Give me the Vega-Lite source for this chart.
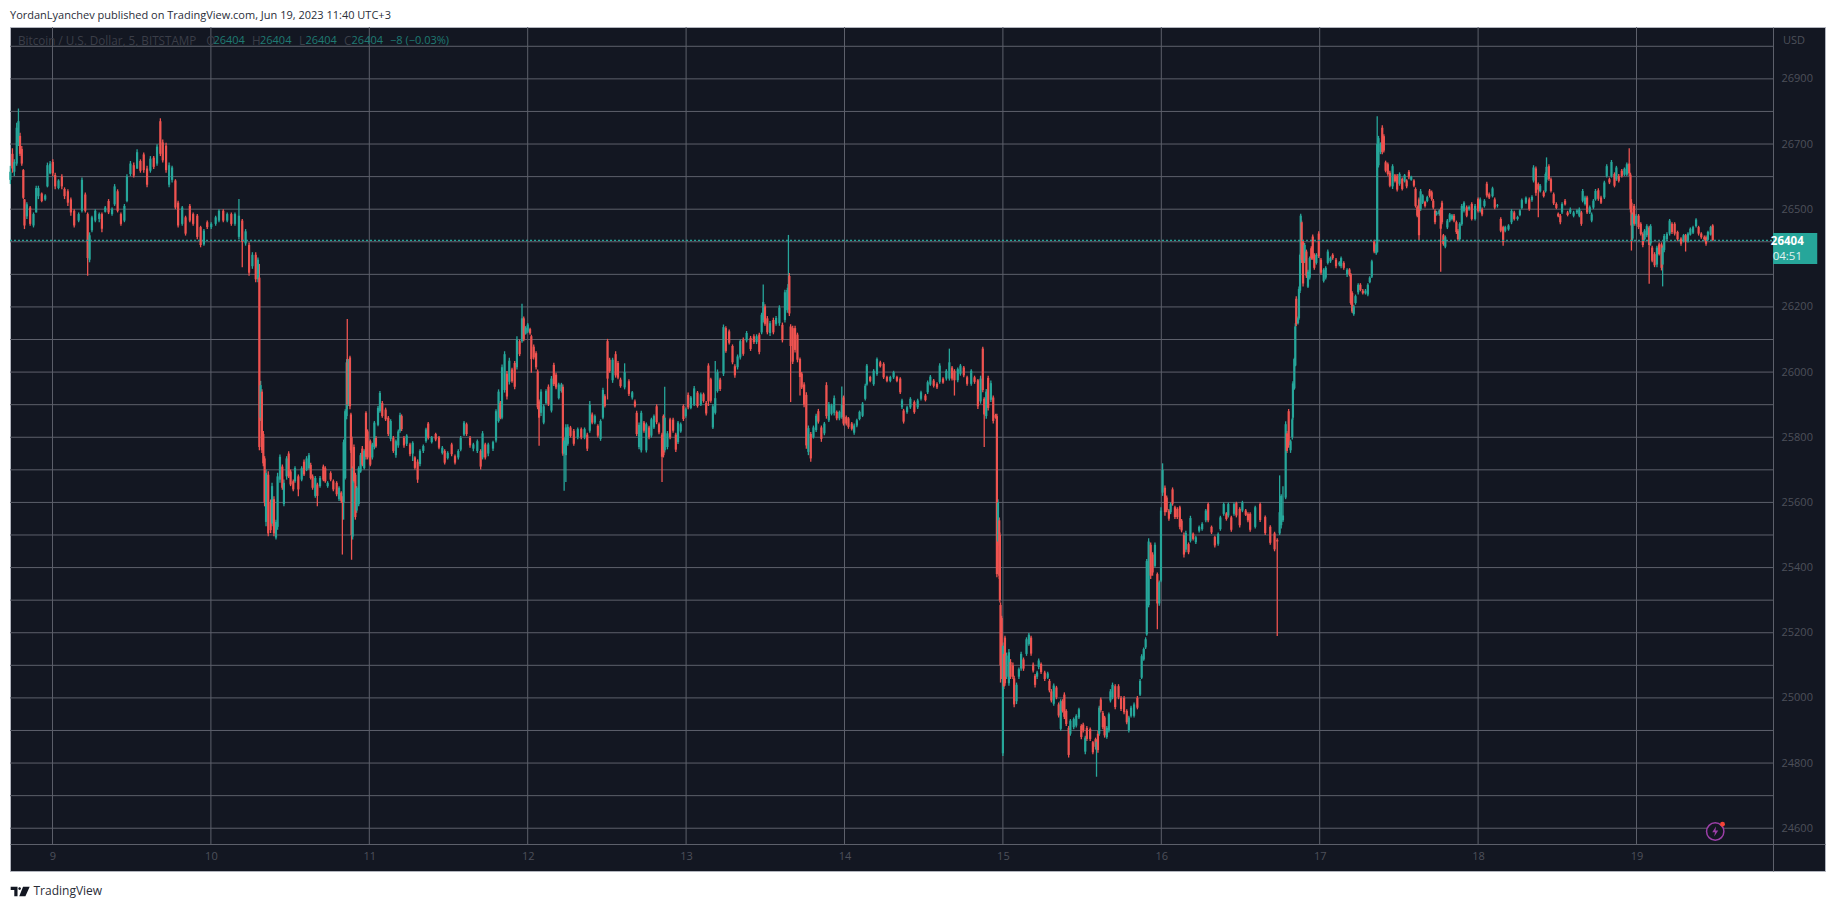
{"$schema":"https://vega.github.io/schema/vega-lite/v6.json","width":1815,"height":844,"autosize":"none","padding":{"left":10,"top":27,"right":10,"bottom":36},"background":"#ffffff",
"title":{"text":"YordanLyanchev published on TradingView.com, Jun 19, 2023 11:40 UTC+3","anchor":"start","frame":"group","font":"Open Sans","fontSize":11,"fontWeight":"normal","color":"#2a2e39","offset":6},
"config":{"view":{"fill":"#131722","stroke":"#b2b5be","strokeWidth":1},"font":"Open Sans"},
"data":{"values":[{"last":26404}]},
"datasets":{"priceGrid":[{"p":24600},{"p":24700},{"p":24800},{"p":24900},{"p":25000},{"p":25100},{"p":25200},{"p":25300},{"p":25400},{"p":25500},{"p":25600},{"p":25700},{"p":25800},{"p":25900},{"p":26000},{"p":26100},{"p":26200},{"p":26300},{"p":26400},{"p":26500},{"p":26600},{"p":26700},{"p":26800},{"p":26900},{"p":27000}],
"dayGrid":[{"day":9},{"day":10},{"day":11},{"day":12},{"day":13},{"day":14},{"day":15},{"day":16},{"day":17},{"day":18},{"day":19}],
"legend":[{"d":8.782,"label":"Bitcoin / U.S. Dollar, 5, BITSTAMP","kind":"name"},{"d":9.97,"label":"O","kind":"name"},{"d":10.259,"label":"H","kind":"name"},{"d":10.556,"label":"L","kind":"name"},{"d":10.84,"label":"C","kind":"name"},{"d":10.016,"label":"26404","kind":"val"},{"d":10.31,"label":"26404","kind":"val"},{"d":10.597,"label":"26404","kind":"val"},{"d":10.888,"label":"26404","kind":"val"},{"d":11.131,"label":"−8 (−0.03%)","kind":"val"}],
"candles":[
{"d":8.734,"o":26590,"h":26633,"l":26577,"c":26615},
{"d":8.747,"o":26670,"h":26687,"l":26612,"c":26625},
{"d":8.759,"o":26615,"h":26653,"l":26602,"c":26645},
{"d":8.774,"o":26640,"h":26765,"l":26633,"c":26750},
{"d":8.785,"o":26705,"h":26809,"l":26694,"c":26770},
{"d":8.795,"o":26725,"h":26735,"l":26663,"c":26670},
{"d":8.806,"o":26685,"h":26694,"l":26633,"c":26640},
{"d":8.816,"o":26620,"h":26623,"l":26531,"c":26535},
{"d":8.823,"o":26530,"h":26531,"l":26439,"c":26450},
{"d":8.838,"o":26478,"h":26521,"l":26470,"c":26515},
{"d":8.859,"o":26505,"h":26510,"l":26449,"c":26455},
{"d":8.88,"o":26450,"h":26490,"l":26444,"c":26485},
{"d":8.897,"o":26490,"h":26572,"l":26490,"c":26565},
{"d":8.911,"o":26540,"h":26572,"l":26531,"c":26565},
{"d":8.932,"o":26548,"h":26551,"l":26521,"c":26525},
{"d":8.954,"o":26530,"h":26546,"l":26526,"c":26542},
{"d":8.968,"o":26570,"h":26643,"l":26567,"c":26635},
{"d":8.985,"o":26610,"h":26648,"l":26607,"c":26640},
{"d":9.002,"o":26645,"h":26653,"l":26602,"c":26610},
{"d":9.017,"o":26605,"h":26612,"l":26561,"c":26570},
{"d":9.038,"o":26565,"h":26592,"l":26561,"c":26588},
{"d":9.059,"o":26600,"h":26607,"l":26561,"c":26570},
{"d":9.076,"o":26562,"h":26567,"l":26531,"c":26540},
{"d":9.097,"o":26555,"h":26561,"l":26510,"c":26520},
{"d":9.116,"o":26530,"h":26536,"l":26480,"c":26490},
{"d":9.137,"o":26495,"h":26500,"l":26444,"c":26450},
{"d":9.165,"o":26465,"h":26490,"l":26460,"c":26485},
{"d":9.186,"o":26495,"h":26597,"l":26490,"c":26590},
{"d":9.207,"o":26545,"h":26551,"l":26490,"c":26495},
{"d":9.222,"o":26485,"h":26490,"l":26296,"c":26350},
{"d":9.234,"o":26345,"h":26429,"l":26337,"c":26420},
{"d":9.249,"o":26435,"h":26480,"l":26429,"c":26475},
{"d":9.27,"o":26465,"h":26500,"l":26460,"c":26495},
{"d":9.295,"o":26470,"h":26490,"l":26460,"c":26485},
{"d":9.312,"o":26485,"h":26490,"l":26429,"c":26440},
{"d":9.333,"o":26492,"h":26510,"l":26490,"c":26505},
{"d":9.354,"o":26525,"h":26531,"l":26485,"c":26490},
{"d":9.376,"o":26485,"h":26505,"l":26480,"c":26500},
{"d":9.392,"o":26515,"h":26577,"l":26510,"c":26570},
{"d":9.411,"o":26555,"h":26561,"l":26490,"c":26495},
{"d":9.432,"o":26485,"h":26490,"l":26449,"c":26455},
{"d":9.454,"o":26465,"h":26516,"l":26460,"c":26510},
{"d":9.47,"o":26525,"h":26607,"l":26521,"c":26600},
{"d":9.492,"o":26608,"h":26648,"l":26602,"c":26640},
{"d":9.513,"o":26635,"h":26643,"l":26597,"c":26603},
{"d":9.534,"o":26625,"h":26684,"l":26623,"c":26675},
{"d":9.555,"o":26648,"h":26653,"l":26612,"c":26618},
{"d":9.576,"o":26668,"h":26674,"l":26612,"c":26620},
{"d":9.597,"o":26625,"h":26633,"l":26567,"c":26575},
{"d":9.618,"o":26618,"h":26663,"l":26612,"c":26655},
{"d":9.639,"o":26658,"h":26663,"l":26623,"c":26630},
{"d":9.66,"o":26640,"h":26699,"l":26633,"c":26692},
{"d":9.681,"o":26770,"h":26779,"l":26663,"c":26670},
{"d":9.696,"o":26705,"h":26714,"l":26643,"c":26650},
{"d":9.717,"o":26695,"h":26704,"l":26612,"c":26620},
{"d":9.736,"o":26575,"h":26643,"l":26567,"c":26635},
{"d":9.755,"o":26590,"h":26633,"l":26582,"c":26628},
{"d":9.776,"o":26588,"h":26592,"l":26500,"c":26505},
{"d":9.793,"o":26520,"h":26526,"l":26444,"c":26450},
{"d":9.819,"o":26455,"h":26510,"l":26449,"c":26505},
{"d":9.84,"o":26475,"h":26480,"l":26419,"c":26425},
{"d":9.867,"o":26510,"h":26516,"l":26460,"c":26465},
{"d":9.888,"o":26485,"h":26490,"l":26449,"c":26455},
{"d":9.914,"o":26480,"h":26485,"l":26408,"c":26415},
{"d":9.935,"o":26445,"h":26449,"l":26383,"c":26390},
{"d":9.956,"o":26392,"h":26439,"l":26388,"c":26434},
{"d":9.977,"o":26460,"h":26465,"l":26439,"c":26445},
{"d":10.002,"o":26445,"h":26460,"l":26439,"c":26455},
{"d":10.03,"o":26455,"h":26480,"l":26449,"c":26475},
{"d":10.051,"o":26465,"h":26500,"l":26460,"c":26495},
{"d":10.078,"o":26495,"h":26500,"l":26460,"c":26465},
{"d":10.103,"o":26465,"h":26490,"l":26460,"c":26485},
{"d":10.129,"o":26485,"h":26490,"l":26449,"c":26455},
{"d":10.152,"o":26455,"h":26490,"l":26449,"c":26485},
{"d":10.177,"o":26415,"h":26531,"l":26408,"c":26480},
{"d":10.198,"o":26465,"h":26470,"l":26322,"c":26400},
{"d":10.219,"o":26395,"h":26439,"l":26388,"c":26432},
{"d":10.241,"o":26390,"h":26398,"l":26296,"c":26305},
{"d":10.262,"o":26325,"h":26368,"l":26317,"c":26360},
{"d":10.283,"o":26360,"h":26368,"l":26276,"c":26285},
{"d":10.297,"o":26285,"h":26352,"l":26276,"c":26345},
{"d":10.306,"o":26290,"h":26332,"l":25760,"c":25770},
{"d":10.314,"o":25860,"h":25973,"l":25850,"c":25960},
{"d":10.322,"o":25940,"h":25947,"l":25752,"c":25760},
{"d":10.331,"o":25810,"h":25819,"l":25711,"c":25720},
{"d":10.339,"o":25735,"h":25742,"l":25588,"c":25600},
{"d":10.348,"o":25540,"h":25701,"l":25527,"c":25690},
{"d":10.362,"o":25685,"h":25696,"l":25496,"c":25505},
{"d":10.377,"o":25600,"h":25609,"l":25506,"c":25515},
{"d":10.386,"o":25535,"h":25660,"l":25527,"c":25650},
{"d":10.398,"o":25610,"h":25619,"l":25496,"c":25505},
{"d":10.411,"o":25492,"h":25547,"l":25486,"c":25540},
{"d":10.421,"o":25525,"h":25691,"l":25516,"c":25680},
{"d":10.436,"o":25670,"h":25747,"l":25660,"c":25740},
{"d":10.451,"o":25710,"h":25716,"l":25639,"c":25645},
{"d":10.461,"o":25595,"h":25670,"l":25588,"c":25660},
{"d":10.478,"o":25680,"h":25742,"l":25670,"c":25735},
{"d":10.491,"o":25750,"h":25757,"l":25675,"c":25680},
{"d":10.503,"o":25695,"h":25701,"l":25650,"c":25655},
{"d":10.52,"o":25665,"h":25670,"l":25634,"c":25640},
{"d":10.531,"o":25665,"h":25711,"l":25660,"c":25705},
{"d":10.552,"o":25680,"h":25686,"l":25619,"c":25640},
{"d":10.573,"o":25670,"h":25711,"l":25665,"c":25705},
{"d":10.588,"o":25725,"h":25732,"l":25681,"c":25686},
{"d":10.604,"o":25700,"h":25742,"l":25696,"c":25735},
{"d":10.619,"o":25705,"h":25752,"l":25701,"c":25745},
{"d":10.63,"o":25715,"h":25722,"l":25670,"c":25675},
{"d":10.642,"o":25680,"h":25686,"l":25639,"c":25645},
{"d":10.659,"o":25620,"h":25681,"l":25614,"c":25675},
{"d":10.672,"o":25655,"h":25660,"l":25588,"c":25620},
{"d":10.689,"o":25650,"h":25681,"l":25645,"c":25675},
{"d":10.71,"o":25710,"h":25716,"l":25665,"c":25670},
{"d":10.722,"o":25705,"h":25711,"l":25660,"c":25665},
{"d":10.737,"o":25650,"h":25665,"l":25645,"c":25660},
{"d":10.756,"o":25690,"h":25696,"l":25665,"c":25670},
{"d":10.773,"o":25665,"h":25670,"l":25634,"c":25640},
{"d":10.794,"o":25660,"h":25665,"l":25619,"c":25625},
{"d":10.809,"o":25610,"h":25650,"l":25604,"c":25645},
{"d":10.823,"o":25630,"h":25634,"l":25598,"c":25605},
{"d":10.83,"o":25610,"h":25619,"l":25440,"c":25600},
{"d":10.838,"o":25600,"h":25793,"l":25547,"c":25785},
{"d":10.848,"o":25675,"h":25886,"l":25670,"c":25880},
{"d":10.857,"o":25865,"h":26040,"l":25855,"c":26030},
{"d":10.861,"o":26030,"h":26163,"l":25886,"c":25900},
{"d":10.87,"o":25900,"h":26040,"l":25896,"c":26035},
{"d":10.878,"o":26045,"h":26050,"l":25886,"c":25895},
{"d":10.884,"o":25870,"h":25875,"l":25752,"c":25760},
{"d":10.888,"o":25800,"h":25804,"l":25424,"c":25500},
{"d":10.895,"o":25495,"h":25711,"l":25486,"c":25705},
{"d":10.903,"o":25770,"h":25778,"l":25660,"c":25665},
{"d":10.912,"o":25685,"h":25691,"l":25547,"c":25555},
{"d":10.92,"o":25575,"h":25650,"l":25568,"c":25645},
{"d":10.933,"o":25595,"h":25711,"l":25588,"c":25705},
{"d":10.945,"o":25695,"h":25752,"l":25691,"c":25745},
{"d":10.956,"o":25765,"h":25773,"l":25711,"c":25716},
{"d":10.968,"o":25705,"h":25763,"l":25701,"c":25758},
{"d":10.979,"o":25875,"h":25880,"l":25732,"c":25740},
{"d":10.989,"o":25818,"h":25824,"l":25732,"c":25738},
{"d":11.006,"o":25788,"h":25793,"l":25711,"c":25716},
{"d":11.019,"o":25738,"h":25783,"l":25732,"c":25778},
{"d":11.032,"o":25770,"h":25850,"l":25763,"c":25845},
{"d":11.042,"o":25798,"h":25804,"l":25768,"c":25772},
{"d":11.055,"o":25838,"h":25896,"l":25834,"c":25890},
{"d":11.067,"o":25880,"h":25942,"l":25875,"c":25936},
{"d":11.082,"o":25905,"h":25911,"l":25860,"c":25865},
{"d":11.103,"o":25885,"h":25891,"l":25850,"c":25855},
{"d":11.12,"o":25860,"h":25865,"l":25804,"c":25810},
{"d":11.135,"o":25795,"h":25855,"l":25788,"c":25850},
{"d":11.152,"o":25798,"h":25804,"l":25752,"c":25758},
{"d":11.168,"o":25745,"h":25793,"l":25737,"c":25788},
{"d":11.183,"o":25775,"h":25824,"l":25768,"c":25818},
{"d":11.194,"o":25820,"h":25875,"l":25814,"c":25868},
{"d":11.204,"o":25865,"h":25870,"l":25819,"c":25825},
{"d":11.219,"o":25798,"h":25804,"l":25768,"c":25775},
{"d":11.236,"o":25780,"h":25809,"l":25773,"c":25805},
{"d":11.257,"o":25778,"h":25783,"l":25742,"c":25748},
{"d":11.274,"o":25750,"h":25788,"l":25727,"c":25783},
{"d":11.288,"o":25738,"h":25742,"l":25701,"c":25706},
{"d":11.305,"o":25725,"h":25732,"l":25660,"c":25670},
{"d":11.32,"o":25718,"h":25763,"l":25711,"c":25758},
{"d":11.341,"o":25758,"h":25778,"l":25752,"c":25773},
{"d":11.358,"o":25788,"h":25829,"l":25783,"c":25824},
{"d":11.372,"o":25842,"h":25847,"l":25793,"c":25798},
{"d":11.394,"o":25785,"h":25804,"l":25781,"c":25800},
{"d":11.419,"o":25810,"h":25814,"l":25788,"c":25793},
{"d":11.44,"o":25800,"h":25804,"l":25763,"c":25768},
{"d":11.461,"o":25752,"h":25773,"l":25747,"c":25768},
{"d":11.476,"o":25758,"h":25763,"l":25716,"c":25722},
{"d":11.495,"o":25736,"h":25757,"l":25732,"c":25752},
{"d":11.52,"o":25778,"h":25783,"l":25742,"c":25748},
{"d":11.541,"o":25742,"h":25747,"l":25716,"c":25722},
{"d":11.562,"o":25738,"h":25763,"l":25732,"c":25758},
{"d":11.577,"o":25762,"h":25804,"l":25757,"c":25798},
{"d":11.598,"o":25808,"h":25850,"l":25804,"c":25845},
{"d":11.614,"o":25840,"h":25845,"l":25804,"c":25810},
{"d":11.636,"o":25798,"h":25804,"l":25768,"c":25775},
{"d":11.657,"o":25765,"h":25783,"l":25757,"c":25778},
{"d":11.682,"o":25758,"h":25793,"l":25752,"c":25788},
{"d":11.703,"o":25758,"h":25763,"l":25701,"c":25710},
{"d":11.715,"o":25738,"h":25819,"l":25732,"c":25812},
{"d":11.732,"o":25778,"h":25783,"l":25732,"c":25738},
{"d":11.751,"o":25750,"h":25783,"l":25742,"c":25778},
{"d":11.781,"o":25765,"h":25789,"l":25758,"c":25785},
{"d":11.8,"o":25790,"h":25886,"l":25784,"c":25880},
{"d":11.816,"o":25850,"h":25947,"l":25845,"c":25940},
{"d":11.827,"o":25905,"h":25911,"l":25855,"c":25860},
{"d":11.838,"o":25860,"h":26023,"l":25855,"c":26015},
{"d":11.854,"o":25945,"h":26064,"l":25937,"c":26055},
{"d":11.869,"o":25995,"h":26003,"l":25916,"c":25925},
{"d":11.884,"o":25970,"h":26044,"l":25962,"c":26035},
{"d":11.901,"o":26008,"h":26013,"l":25967,"c":25972},
{"d":11.918,"o":26028,"h":26034,"l":25947,"c":25955},
{"d":11.932,"o":26015,"h":26110,"l":26008,"c":26100},
{"d":11.949,"o":26095,"h":26100,"l":26049,"c":26055},
{"d":11.964,"o":26095,"h":26210,"l":26090,"c":26165},
{"d":11.975,"o":26165,"h":26171,"l":26095,"c":26100},
{"d":11.987,"o":26118,"h":26141,"l":26115,"c":26136},
{"d":12,"o":26124,"h":26151,"l":26120,"c":26146},
{"d":12.015,"o":26132,"h":26136,"l":26115,"c":26119},
{"d":12.023,"o":26110,"h":26115,"l":25998,"c":26040},
{"d":12.038,"o":26078,"h":26085,"l":26039,"c":26045},
{"d":12.053,"o":26058,"h":26064,"l":26008,"c":26015},
{"d":12.063,"o":26002,"h":26008,"l":25886,"c":25892},
{"d":12.072,"o":25910,"h":25916,"l":25774,"c":25860},
{"d":12.084,"o":25875,"h":25947,"l":25865,"c":25940},
{"d":12.101,"o":25845,"h":25901,"l":25840,"c":25895},
{"d":12.116,"o":25905,"h":25947,"l":25901,"c":25942},
{"d":12.131,"o":25955,"h":25962,"l":25896,"c":25902},
{"d":12.15,"o":25882,"h":25988,"l":25876,"c":25980},
{"d":12.165,"o":26022,"h":26029,"l":25957,"c":25963},
{"d":12.179,"o":25992,"h":25998,"l":25947,"c":25953},
{"d":12.196,"o":25920,"h":25967,"l":25916,"c":25962},
{"d":12.213,"o":25942,"h":25967,"l":25937,"c":25962},
{"d":12.222,"o":25955,"h":25962,"l":25743,"c":25750},
{"d":12.23,"o":25750,"h":25799,"l":25636,"c":25790},
{"d":12.241,"o":25745,"h":25840,"l":25663,"c":25830},
{"d":12.253,"o":25780,"h":25840,"l":25774,"c":25832},
{"d":12.27,"o":25830,"h":25835,"l":25799,"c":25804},
{"d":12.291,"o":25820,"h":25825,"l":25774,"c":25780},
{"d":12.316,"o":25800,"h":25830,"l":25794,"c":25825},
{"d":12.338,"o":25825,"h":25830,"l":25794,"c":25800},
{"d":12.359,"o":25800,"h":25830,"l":25794,"c":25825},
{"d":12.376,"o":25808,"h":25814,"l":25758,"c":25765},
{"d":12.392,"o":25820,"h":25911,"l":25814,"c":25900},
{"d":12.407,"o":25870,"h":25876,"l":25840,"c":25845},
{"d":12.424,"o":25845,"h":25870,"l":25840,"c":25865},
{"d":12.443,"o":25835,"h":25840,"l":25799,"c":25805},
{"d":12.46,"o":25795,"h":25855,"l":25789,"c":25850},
{"d":12.475,"o":25860,"h":25952,"l":25855,"c":25945},
{"d":12.487,"o":25926,"h":25932,"l":25891,"c":25896},
{"d":12.504,"o":26095,"h":26102,"l":25916,"c":25980},
{"d":12.517,"o":26038,"h":26044,"l":25998,"c":26003},
{"d":12.536,"o":25975,"h":26044,"l":25967,"c":26038},
{"d":12.555,"o":26055,"h":26064,"l":25983,"c":25990},
{"d":12.57,"o":26028,"h":26034,"l":25978,"c":25983},
{"d":12.586,"o":25977,"h":25983,"l":25952,"c":25957},
{"d":12.612,"o":25953,"h":26027,"l":25947,"c":26000},
{"d":12.639,"o":25972,"h":25978,"l":25927,"c":25933},
{"d":12.66,"o":25922,"h":25942,"l":25916,"c":25938},
{"d":12.677,"o":25910,"h":25916,"l":25891,"c":25895},
{"d":12.688,"o":25875,"h":25881,"l":25804,"c":25810},
{"d":12.703,"o":25770,"h":25845,"l":25763,"c":25838},
{"d":12.717,"o":25760,"h":25881,"l":25753,"c":25875},
{"d":12.734,"o":25845,"h":25850,"l":25814,"c":25820},
{"d":12.749,"o":25760,"h":25845,"l":25753,"c":25840},
{"d":12.766,"o":25830,"h":25835,"l":25794,"c":25800},
{"d":12.781,"o":25805,"h":25860,"l":25799,"c":25855},
{"d":12.797,"o":25830,"h":25870,"l":25825,"c":25865},
{"d":12.814,"o":25895,"h":25901,"l":25840,"c":25846},
{"d":12.829,"o":25840,"h":25845,"l":25809,"c":25815},
{"d":12.848,"o":25808,"h":25814,"l":25663,"c":25740},
{"d":12.857,"o":25865,"h":25870,"l":25738,"c":25745},
{"d":12.865,"o":25760,"h":25955,"l":25753,"c":25860},
{"d":12.882,"o":25770,"h":25819,"l":25763,"c":25812},
{"d":12.899,"o":25855,"h":25860,"l":25794,"c":25800},
{"d":12.918,"o":25854,"h":25860,"l":25814,"c":25820},
{"d":12.935,"o":25808,"h":25814,"l":25755,"c":25762},
{"d":12.949,"o":25785,"h":25850,"l":25779,"c":25845},
{"d":12.966,"o":25818,"h":25845,"l":25814,"c":25840},
{"d":12.983,"o":25896,"h":25901,"l":25850,"c":25856},
{"d":12.998,"o":25865,"h":25891,"l":25860,"c":25886},
{"d":13.013,"o":25930,"h":25937,"l":25886,"c":25892},
{"d":13.03,"o":25890,"h":25927,"l":25886,"c":25922},
{"d":13.051,"o":25900,"h":25957,"l":25896,"c":25950},
{"d":13.072,"o":25937,"h":25942,"l":25891,"c":25896},
{"d":13.093,"o":25900,"h":25937,"l":25896,"c":25932},
{"d":13.11,"o":25932,"h":25937,"l":25906,"c":25911},
{"d":13.127,"o":25905,"h":25911,"l":25867,"c":25873},
{"d":13.141,"o":26020,"h":26027,"l":25896,"c":25910},
{"d":13.156,"o":25978,"h":25983,"l":25906,"c":25912},
{"d":13.169,"o":25830,"h":25901,"l":25825,"c":25895},
{"d":13.184,"o":25875,"h":26034,"l":25870,"c":25920},
{"d":13.198,"o":25942,"h":26008,"l":25937,"c":26000},
{"d":13.215,"o":25977,"h":25983,"l":25942,"c":25948},
{"d":13.236,"o":25995,"h":26146,"l":25988,"c":26138},
{"d":13.251,"o":26135,"h":26141,"l":26059,"c":26065},
{"d":13.272,"o":26125,"h":26131,"l":26085,"c":26090},
{"d":13.293,"o":26080,"h":26085,"l":26024,"c":26030},
{"d":13.308,"o":26018,"h":26024,"l":25983,"c":25990},
{"d":13.325,"o":26015,"h":26054,"l":26008,"c":26048},
{"d":13.342,"o":26045,"h":26100,"l":26039,"c":26095},
{"d":13.361,"o":26100,"h":26106,"l":26050,"c":26056},
{"d":13.382,"o":26097,"h":26126,"l":26091,"c":26120},
{"d":13.407,"o":26105,"h":26111,"l":26065,"c":26071},
{"d":13.428,"o":26110,"h":26116,"l":26086,"c":26092},
{"d":13.445,"o":26092,"h":26116,"l":26086,"c":26110},
{"d":13.462,"o":26115,"h":26121,"l":26055,"c":26062},
{"d":13.477,"o":26122,"h":26182,"l":26116,"c":26176},
{"d":13.487,"o":26160,"h":26269,"l":26152,"c":26215},
{"d":13.498,"o":26202,"h":26208,"l":26142,"c":26148},
{"d":13.513,"o":26165,"h":26172,"l":26116,"c":26122},
{"d":13.53,"o":26120,"h":26157,"l":26111,"c":26150},
{"d":13.551,"o":26160,"h":26167,"l":26116,"c":26122},
{"d":13.568,"o":26148,"h":26172,"l":26142,"c":26166},
{"d":13.589,"o":26150,"h":26205,"l":26142,"c":26198},
{"d":13.608,"o":26145,"h":26152,"l":26091,"c":26098},
{"d":13.624,"o":26160,"h":26253,"l":26152,"c":26245},
{"d":13.639,"o":26190,"h":26259,"l":26182,"c":26252},
{"d":13.646,"o":26200,"h":26421,"l":26192,"c":26270},
{"d":13.652,"o":26295,"h":26304,"l":26172,"c":26180},
{"d":13.66,"o":26140,"h":26147,"l":25908,"c":26080},
{"d":13.673,"o":26135,"h":26142,"l":26025,"c":26032},
{"d":13.688,"o":26135,"h":26142,"l":26060,"c":26068},
{"d":13.703,"o":26115,"h":26121,"l":26030,"c":26038},
{"d":13.719,"o":26040,"h":26045,"l":25928,"c":25985},
{"d":13.73,"o":25995,"h":26000,"l":25948,"c":25953},
{"d":13.745,"o":25962,"h":25969,"l":25892,"c":25900},
{"d":13.759,"o":25930,"h":25938,"l":25765,"c":25775},
{"d":13.772,"o":25755,"h":25836,"l":25745,"c":25828},
{"d":13.787,"o":25810,"h":25816,"l":25725,"c":25735},
{"d":13.804,"o":25800,"h":25836,"l":25796,"c":25830},
{"d":13.821,"o":25822,"h":25872,"l":25816,"c":25866},
{"d":13.835,"o":25880,"h":25887,"l":25842,"c":25848},
{"d":13.854,"o":25830,"h":25836,"l":25786,"c":25795},
{"d":13.873,"o":25812,"h":25847,"l":25806,"c":25842},
{"d":13.886,"o":25960,"h":25969,"l":25857,"c":25865},
{"d":13.901,"o":25852,"h":25908,"l":25847,"c":25902},
{"d":13.918,"o":25872,"h":25903,"l":25867,"c":25898},
{"d":13.935,"o":25875,"h":25928,"l":25867,"c":25920},
{"d":13.951,"o":25878,"h":25882,"l":25852,"c":25858},
{"d":13.968,"o":25858,"h":25882,"l":25852,"c":25878},
{"d":13.983,"o":25862,"h":25956,"l":25857,"c":25900},
{"d":13.994,"o":25922,"h":25928,"l":25836,"c":25842},
{"d":14.011,"o":25862,"h":25867,"l":25836,"c":25842},
{"d":14.025,"o":25858,"h":25862,"l":25826,"c":25832},
{"d":14.046,"o":25842,"h":25847,"l":25821,"c":25826},
{"d":14.061,"o":25814,"h":25842,"l":25808,"c":25836},
{"d":14.078,"o":25836,"h":25857,"l":25831,"c":25852},
{"d":14.095,"o":25856,"h":25882,"l":25852,"c":25878},
{"d":14.114,"o":25866,"h":25908,"l":25862,"c":25903},
{"d":14.131,"o":25918,"h":25964,"l":25913,"c":25958},
{"d":14.141,"o":25962,"h":26025,"l":25958,"c":26020},
{"d":14.162,"o":25985,"h":25989,"l":25969,"c":25973},
{"d":14.184,"o":25963,"h":26009,"l":25958,"c":26004},
{"d":14.205,"o":25994,"h":26045,"l":25989,"c":26040},
{"d":14.226,"o":26030,"h":26035,"l":26014,"c":26018},
{"d":14.247,"o":26025,"h":26030,"l":25979,"c":25984},
{"d":14.268,"o":25985,"h":25989,"l":25969,"c":25973},
{"d":14.289,"o":25973,"h":25989,"l":25969,"c":25985},
{"d":14.31,"o":25984,"h":26004,"l":25979,"c":26000},
{"d":14.331,"o":25985,"h":25989,"l":25969,"c":25973},
{"d":14.352,"o":25980,"h":25984,"l":25933,"c":25938},
{"d":14.363,"o":25892,"h":25918,"l":25887,"c":25913},
{"d":14.373,"o":25882,"h":25887,"l":25842,"c":25848},
{"d":14.395,"o":25877,"h":25897,"l":25872,"c":25892},
{"d":14.416,"o":25892,"h":25923,"l":25887,"c":25918},
{"d":14.441,"o":25908,"h":25913,"l":25872,"c":25877},
{"d":14.462,"o":25892,"h":25918,"l":25887,"c":25913},
{"d":14.483,"o":25918,"h":25943,"l":25913,"c":25938},
{"d":14.511,"o":25928,"h":25933,"l":25910,"c":25914},
{"d":14.525,"o":25938,"h":25974,"l":25933,"c":25969},
{"d":14.542,"o":25962,"h":25991,"l":25958,"c":25986},
{"d":14.563,"o":25974,"h":25979,"l":25953,"c":25958},
{"d":14.584,"o":25964,"h":25969,"l":25948,"c":25953},
{"d":14.601,"o":25970,"h":26027,"l":25964,"c":26020},
{"d":14.622,"o":25980,"h":25984,"l":25964,"c":25968},
{"d":14.643,"o":25980,"h":26009,"l":25974,"c":26004},
{"d":14.662,"o":25980,"h":26072,"l":25974,"c":26030},
{"d":14.679,"o":26014,"h":26019,"l":25974,"c":25980},
{"d":14.694,"o":26004,"h":26009,"l":25928,"c":25975},
{"d":14.715,"o":25975,"h":26014,"l":25969,"c":26009},
{"d":14.732,"o":25995,"h":26025,"l":25989,"c":26020},
{"d":14.753,"o":26014,"h":26019,"l":25984,"c":25990},
{"d":14.774,"o":25984,"h":25989,"l":25958,"c":25964},
{"d":14.8,"o":25964,"h":26009,"l":25958,"c":26004},
{"d":14.821,"o":25984,"h":25989,"l":25964,"c":25970},
{"d":14.842,"o":25975,"h":25979,"l":25887,"c":25895},
{"d":14.859,"o":25910,"h":25989,"l":25903,"c":25980},
{"d":14.873,"o":26072,"h":26078,"l":25938,"c":25945},
{"d":14.882,"o":25918,"h":25923,"l":25770,"c":25870},
{"d":14.895,"o":25865,"h":25948,"l":25857,"c":25940},
{"d":14.907,"o":25982,"h":25989,"l":25882,"c":25890},
{"d":14.924,"o":25915,"h":25974,"l":25908,"c":25966},
{"d":14.939,"o":25922,"h":25928,"l":25842,"c":25850},
{"d":14.954,"o":25868,"h":25872,"l":25857,"c":25860},
{"d":14.962,"o":25865,"h":25872,"l":25370,"c":25380},
{"d":14.969,"o":25480,"h":25610,"l":25467,"c":25600},
{"d":14.977,"o":25545,"h":25554,"l":25365,"c":25375},
{"d":14.981,"o":25500,"h":25508,"l":25293,"c":25300},
{"d":14.985,"o":25285,"h":25293,"l":25047,"c":25100},
{"d":14.992,"o":25245,"h":25252,"l":25058,"c":25065},
{"d":15,"o":24830,"h":25170,"l":24822,"c":25160},
{"d":15.006,"o":25135,"h":25145,"l":25027,"c":25035},
{"d":15.013,"o":25185,"h":25191,"l":25037,"c":25045},
{"d":15.023,"o":25065,"h":25139,"l":25058,"c":25130},
{"d":15.038,"o":25045,"h":25150,"l":25037,"c":25140},
{"d":15.048,"o":25110,"h":25119,"l":25058,"c":25065},
{"d":15.063,"o":25100,"h":25109,"l":25058,"c":25065},
{"d":15.071,"o":25060,"h":25068,"l":24971,"c":24980},
{"d":15.086,"o":24990,"h":25047,"l":24981,"c":25040},
{"d":15.101,"o":25065,"h":25093,"l":25058,"c":25088},
{"d":15.115,"o":25090,"h":25142,"l":25083,"c":25135},
{"d":15.13,"o":25118,"h":25124,"l":25083,"c":25090},
{"d":15.149,"o":25135,"h":25186,"l":25129,"c":25180},
{"d":15.164,"o":25165,"h":25199,"l":25160,"c":25194},
{"d":15.178,"o":25185,"h":25191,"l":25129,"c":25136},
{"d":15.191,"o":25102,"h":25109,"l":25078,"c":25084},
{"d":15.203,"o":25068,"h":25073,"l":25032,"c":25040},
{"d":15.216,"o":25065,"h":25083,"l":25058,"c":25078},
{"d":15.226,"o":25095,"h":25121,"l":25088,"c":25115},
{"d":15.241,"o":25104,"h":25109,"l":25073,"c":25079},
{"d":15.264,"o":25078,"h":25083,"l":25052,"c":25058},
{"d":15.283,"o":25062,"h":25080,"l":25058,"c":25075},
{"d":15.294,"o":25052,"h":25058,"l":25017,"c":25023},
{"d":15.306,"o":25020,"h":25027,"l":24986,"c":24992},
{"d":15.321,"o":24982,"h":25044,"l":24976,"c":25038},
{"d":15.338,"o":25032,"h":25037,"l":24996,"c":25002},
{"d":15.352,"o":24980,"h":24986,"l":24940,"c":24946},
{"d":15.365,"o":24905,"h":24996,"l":24899,"c":24990},
{"d":15.377,"o":24990,"h":24996,"l":24955,"c":24960},
{"d":15.388,"o":25010,"h":25017,"l":24935,"c":24942},
{"d":15.4,"o":24960,"h":24965,"l":24914,"c":24920},
{"d":15.415,"o":24908,"h":24914,"l":24817,"c":24825},
{"d":15.426,"o":24890,"h":24935,"l":24884,"c":24930},
{"d":15.447,"o":24910,"h":24940,"l":24904,"c":24935},
{"d":15.463,"o":24915,"h":24950,"l":24909,"c":24945},
{"d":15.48,"o":24940,"h":24970,"l":24935,"c":24965},
{"d":15.495,"o":24914,"h":24919,"l":24873,"c":24880},
{"d":15.507,"o":24918,"h":24924,"l":24894,"c":24900},
{"d":15.52,"o":24835,"h":24884,"l":24827,"c":24878},
{"d":15.53,"o":24908,"h":24914,"l":24868,"c":24874},
{"d":15.551,"o":24904,"h":24909,"l":24868,"c":24874},
{"d":15.568,"o":24864,"h":24868,"l":24827,"c":24833},
{"d":15.585,"o":24873,"h":24878,"l":24843,"c":24850},
{"d":15.591,"o":24840,"h":24873,"l":24758,"c":24865},
{"d":15.6,"o":24890,"h":24899,"l":24832,"c":24840},
{"d":15.608,"o":24890,"h":24976,"l":24884,"c":24970},
{"d":15.618,"o":24995,"h":25001,"l":24955,"c":24962},
{"d":15.631,"o":24954,"h":24960,"l":24904,"c":24910},
{"d":15.642,"o":24940,"h":24945,"l":24878,"c":24885},
{"d":15.656,"o":24880,"h":24914,"l":24875,"c":24908},
{"d":15.669,"o":24900,"h":24955,"l":24894,"c":24950},
{"d":15.679,"o":24992,"h":25027,"l":24986,"c":25020},
{"d":15.692,"o":25002,"h":25047,"l":24996,"c":25040},
{"d":15.709,"o":25036,"h":25042,"l":24965,"c":24972},
{"d":15.73,"o":25036,"h":25042,"l":24996,"c":25002},
{"d":15.746,"o":25000,"h":25006,"l":24960,"c":24966},
{"d":15.765,"o":25000,"h":25006,"l":24950,"c":24956},
{"d":15.782,"o":24960,"h":24965,"l":24919,"c":24925},
{"d":15.795,"o":24900,"h":24945,"l":24894,"c":24940},
{"d":15.809,"o":24945,"h":24976,"l":24940,"c":24970},
{"d":15.828,"o":24945,"h":24986,"l":24940,"c":24980},
{"d":15.849,"o":25000,"h":25006,"l":24965,"c":24970},
{"d":15.866,"o":25010,"h":25058,"l":25006,"c":25052},
{"d":15.876,"o":25062,"h":25134,"l":25058,"c":25128},
{"d":15.889,"o":25118,"h":25155,"l":25114,"c":25150},
{"d":15.901,"o":25155,"h":25186,"l":25150,"c":25180},
{"d":15.908,"o":25195,"h":25426,"l":25191,"c":25420},
{"d":15.92,"o":25285,"h":25490,"l":25278,"c":25480},
{"d":15.933,"o":25470,"h":25477,"l":25365,"c":25375},
{"d":15.945,"o":25440,"h":25447,"l":25375,"c":25385},
{"d":15.96,"o":25405,"h":25477,"l":25400,"c":25470},
{"d":15.975,"o":25380,"h":25385,"l":25211,"c":25290},
{"d":15.987,"o":25290,"h":25360,"l":25283,"c":25355},
{"d":15.998,"o":25360,"h":25585,"l":25355,"c":25575},
{"d":16.008,"o":25630,"h":25720,"l":25620,"c":25700},
{"d":16.023,"o":25645,"h":25652,"l":25559,"c":25570},
{"d":16.034,"o":25615,"h":25621,"l":25570,"c":25576},
{"d":16.048,"o":25575,"h":25580,"l":25544,"c":25550},
{"d":16.059,"o":25570,"h":25600,"l":25564,"c":25595},
{"d":16.071,"o":25640,"h":25646,"l":25590,"c":25596},
{"d":16.086,"o":25585,"h":25590,"l":25549,"c":25555},
{"d":16.101,"o":25580,"h":25585,"l":25549,"c":25555},
{"d":16.117,"o":25585,"h":25590,"l":25518,"c":25525},
{"d":16.128,"o":25544,"h":25549,"l":25508,"c":25514},
{"d":16.143,"o":25500,"h":25508,"l":25431,"c":25440},
{"d":16.155,"o":25455,"h":25513,"l":25447,"c":25506},
{"d":16.172,"o":25472,"h":25477,"l":25441,"c":25447},
{"d":16.184,"o":25482,"h":25559,"l":25477,"c":25552},
{"d":16.201,"o":25504,"h":25508,"l":25483,"c":25488},
{"d":16.218,"o":25478,"h":25498,"l":25472,"c":25493},
{"d":16.239,"o":25513,"h":25529,"l":25508,"c":25525},
{"d":16.258,"o":25518,"h":25539,"l":25513,"c":25534},
{"d":16.281,"o":25545,"h":25580,"l":25539,"c":25575},
{"d":16.296,"o":25595,"h":25600,"l":25539,"c":25545},
{"d":16.317,"o":25525,"h":25529,"l":25503,"c":25508},
{"d":16.338,"o":25494,"h":25498,"l":25462,"c":25468},
{"d":16.359,"o":25473,"h":25508,"l":25467,"c":25503},
{"d":16.373,"o":25518,"h":25559,"l":25513,"c":25554},
{"d":16.394,"o":25565,"h":25600,"l":25559,"c":25595},
{"d":16.411,"o":25566,"h":25570,"l":25544,"c":25549},
{"d":16.423,"o":25560,"h":25600,"l":25554,"c":25595},
{"d":16.442,"o":25554,"h":25559,"l":25510,"c":25516},
{"d":16.459,"o":25565,"h":25600,"l":25559,"c":25595},
{"d":16.474,"o":25598,"h":25602,"l":25554,"c":25560},
{"d":16.495,"o":25580,"h":25585,"l":25523,"c":25530},
{"d":16.512,"o":25575,"h":25605,"l":25570,"c":25600},
{"d":16.533,"o":25575,"h":25580,"l":25558,"c":25562},
{"d":16.547,"o":25565,"h":25570,"l":25539,"c":25545},
{"d":16.561,"o":25565,"h":25570,"l":25510,"c":25516},
{"d":16.593,"o":25525,"h":25590,"l":25520,"c":25585},
{"d":16.624,"o":25595,"h":25600,"l":25540,"c":25546},
{"d":16.656,"o":25555,"h":25560,"l":25500,"c":25506},
{"d":16.688,"o":25525,"h":25530,"l":25470,"c":25476},
{"d":16.715,"o":25505,"h":25510,"l":25450,"c":25456},
{"d":16.732,"o":25485,"h":25490,"l":25190,"c":25480},
{"d":16.747,"o":25505,"h":25683,"l":25500,"c":25570},
{"d":16.757,"o":25530,"h":25625,"l":25520,"c":25620},
{"d":16.768,"o":25545,"h":25650,"l":25540,"c":25560},
{"d":16.785,"o":25615,"h":25849,"l":25610,"c":25840},
{"d":16.793,"o":25812,"h":25819,"l":25752,"c":25758},
{"d":16.804,"o":25880,"h":25887,"l":25768,"c":25776},
{"d":16.816,"o":25760,"h":25793,"l":25752,"c":25788},
{"d":16.827,"o":25800,"h":25860,"l":25793,"c":25855},
{"d":16.831,"o":25860,"h":25972,"l":25854,"c":25965},
{"d":16.84,"o":25950,"h":26044,"l":25946,"c":26040},
{"d":16.846,"o":26020,"h":26150,"l":26018,"c":26140},
{"d":16.852,"o":26225,"h":26233,"l":26141,"c":26148},
{"d":16.863,"o":26150,"h":26171,"l":26146,"c":26166},
{"d":16.869,"o":26165,"h":26263,"l":26161,"c":26255},
{"d":16.876,"o":26250,"h":26365,"l":26243,"c":26360},
{"d":16.88,"o":26365,"h":26486,"l":26360,"c":26480},
{"d":16.886,"o":26460,"h":26465,"l":26335,"c":26345},
{"d":16.895,"o":26400,"h":26406,"l":26263,"c":26272},
{"d":16.905,"o":26340,"h":26396,"l":26335,"c":26390},
{"d":16.916,"o":26370,"h":26376,"l":26289,"c":26296},
{"d":16.926,"o":26262,"h":26314,"l":26258,"c":26308},
{"d":16.937,"o":26290,"h":26355,"l":26284,"c":26350},
{"d":16.947,"o":26380,"h":26386,"l":26345,"c":26350},
{"d":16.956,"o":26416,"h":26422,"l":26345,"c":26350},
{"d":16.966,"o":26360,"h":26365,"l":26314,"c":26320},
{"d":16.979,"o":26335,"h":26365,"l":26330,"c":26360},
{"d":16.994,"o":26425,"h":26432,"l":26350,"c":26356},
{"d":17.008,"o":26345,"h":26350,"l":26299,"c":26305},
{"d":17.025,"o":26280,"h":26319,"l":26275,"c":26314},
{"d":17.038,"o":26290,"h":26325,"l":26284,"c":26320},
{"d":17.051,"o":26335,"h":26376,"l":26330,"c":26370},
{"d":17.068,"o":26340,"h":26355,"l":26335,"c":26350},
{"d":17.082,"o":26360,"h":26365,"l":26345,"c":26350},
{"d":17.103,"o":26345,"h":26350,"l":26319,"c":26325},
{"d":17.124,"o":26330,"h":26340,"l":26325,"c":26336},
{"d":17.135,"o":26325,"h":26355,"l":26319,"c":26350},
{"d":17.152,"o":26335,"h":26340,"l":26314,"c":26320},
{"d":17.173,"o":26300,"h":26319,"l":26292,"c":26314},
{"d":17.188,"o":26315,"h":26319,"l":26294,"c":26300},
{"d":17.196,"o":26300,"h":26304,"l":26207,"c":26212},
{"d":17.205,"o":26243,"h":26248,"l":26181,"c":26186},
{"d":17.215,"o":26178,"h":26207,"l":26173,"c":26202},
{"d":17.226,"o":26212,"h":26238,"l":26207,"c":26233},
{"d":17.243,"o":26245,"h":26273,"l":26238,"c":26268},
{"d":17.257,"o":26268,"h":26273,"l":26248,"c":26252},
{"d":17.272,"o":26250,"h":26255,"l":26238,"c":26242},
{"d":17.289,"o":26242,"h":26255,"l":26238,"c":26250},
{"d":17.304,"o":26238,"h":26273,"l":26233,"c":26268},
{"d":17.316,"o":26276,"h":26294,"l":26273,"c":26290},
{"d":17.329,"o":26293,"h":26345,"l":26289,"c":26340},
{"d":17.344,"o":26400,"h":26406,"l":26365,"c":26370},
{"d":17.357,"o":26365,"h":26396,"l":26360,"c":26392},
{"d":17.363,"o":26368,"h":26785,"l":26368,"c":26700},
{"d":17.371,"o":26635,"h":26725,"l":26628,"c":26718},
{"d":17.384,"o":26675,"h":26705,"l":26669,"c":26700},
{"d":17.395,"o":26750,"h":26758,"l":26669,"c":26676},
{"d":17.405,"o":26724,"h":26730,"l":26674,"c":26680},
{"d":17.416,"o":26644,"h":26649,"l":26613,"c":26618},
{"d":17.43,"o":26638,"h":26643,"l":26603,"c":26608},
{"d":17.443,"o":26612,"h":26618,"l":26567,"c":26572},
{"d":17.46,"o":26570,"h":26638,"l":26562,"c":26632},
{"d":17.475,"o":26604,"h":26608,"l":26582,"c":26586},
{"d":17.489,"o":26603,"h":26608,"l":26554,"c":26560},
{"d":17.504,"o":26578,"h":26613,"l":26572,"c":26608},
{"d":17.521,"o":26593,"h":26597,"l":26557,"c":26562},
{"d":17.536,"o":26586,"h":26608,"l":26582,"c":26604},
{"d":17.549,"o":26588,"h":26592,"l":26564,"c":26570},
{"d":17.563,"o":26615,"h":26620,"l":26592,"c":26598},
{"d":17.578,"o":26590,"h":26603,"l":26587,"c":26600},
{"d":17.595,"o":26588,"h":26592,"l":26567,"c":26572},
{"d":17.605,"o":26562,"h":26567,"l":26505,"c":26510},
{"d":17.616,"o":26506,"h":26511,"l":26475,"c":26480},
{"d":17.627,"o":26530,"h":26536,"l":26403,"c":26420},
{"d":17.637,"o":26500,"h":26562,"l":26495,"c":26555},
{"d":17.65,"o":26520,"h":26546,"l":26516,"c":26542},
{"d":17.665,"o":26522,"h":26526,"l":26505,"c":26510},
{"d":17.679,"o":26525,"h":26541,"l":26521,"c":26537},
{"d":17.694,"o":26557,"h":26562,"l":26536,"c":26541},
{"d":17.707,"o":26552,"h":26557,"l":26526,"c":26531},
{"d":17.717,"o":26526,"h":26531,"l":26500,"c":26505},
{"d":17.728,"o":26495,"h":26500,"l":26454,"c":26460},
{"d":17.738,"o":26484,"h":26495,"l":26480,"c":26490},
{"d":17.755,"o":26485,"h":26500,"l":26480,"c":26496},
{"d":17.764,"o":26500,"h":26505,"l":26308,"c":26440},
{"d":17.772,"o":26520,"h":26526,"l":26454,"c":26460},
{"d":17.781,"o":26420,"h":26424,"l":26388,"c":26393},
{"d":17.793,"o":26385,"h":26419,"l":26380,"c":26414},
{"d":17.806,"o":26444,"h":26470,"l":26439,"c":26465},
{"d":17.821,"o":26465,"h":26488,"l":26460,"c":26484},
{"d":17.835,"o":26470,"h":26485,"l":26465,"c":26481},
{"d":17.848,"o":26480,"h":26485,"l":26460,"c":26465},
{"d":17.863,"o":26460,"h":26465,"l":26424,"c":26430},
{"d":17.873,"o":26434,"h":26439,"l":26403,"c":26408},
{"d":17.884,"o":26408,"h":26460,"l":26403,"c":26455},
{"d":17.897,"o":26454,"h":26516,"l":26449,"c":26510},
{"d":17.911,"o":26495,"h":26524,"l":26490,"c":26520},
{"d":17.928,"o":26506,"h":26511,"l":26475,"c":26480},
{"d":17.943,"o":26500,"h":26511,"l":26495,"c":26507},
{"d":17.96,"o":26516,"h":26521,"l":26465,"c":26470},
{"d":17.981,"o":26470,"h":26516,"l":26465,"c":26510},
{"d":18,"o":26531,"h":26536,"l":26490,"c":26495},
{"d":18.013,"o":26495,"h":26536,"l":26490,"c":26530},
{"d":18.025,"o":26500,"h":26505,"l":26478,"c":26484},
{"d":18.04,"o":26510,"h":26531,"l":26505,"c":26526},
{"d":18.055,"o":26578,"h":26584,"l":26536,"c":26542},
{"d":18.07,"o":26546,"h":26551,"l":26531,"c":26536},
{"d":18.091,"o":26540,"h":26569,"l":26536,"c":26564},
{"d":18.105,"o":26530,"h":26536,"l":26500,"c":26505},
{"d":18.122,"o":26510,"h":26516,"l":26505,"c":26512},
{"d":18.143,"o":26470,"h":26475,"l":26429,"c":26434},
{"d":18.158,"o":26445,"h":26449,"l":26388,"c":26400},
{"d":18.171,"o":26434,"h":26449,"l":26429,"c":26445},
{"d":18.192,"o":26438,"h":26454,"l":26434,"c":26450},
{"d":18.211,"o":26460,"h":26500,"l":26454,"c":26495},
{"d":18.228,"o":26490,"h":26495,"l":26465,"c":26470},
{"d":18.249,"o":26470,"h":26480,"l":26465,"c":26476},
{"d":18.264,"o":26482,"h":26500,"l":26478,"c":26496},
{"d":18.276,"o":26504,"h":26533,"l":26500,"c":26528},
{"d":18.302,"o":26520,"h":26539,"l":26516,"c":26535},
{"d":18.323,"o":26530,"h":26536,"l":26495,"c":26500},
{"d":18.34,"o":26528,"h":26543,"l":26523,"c":26538},
{"d":18.35,"o":26588,"h":26635,"l":26582,"c":26628},
{"d":18.365,"o":26625,"h":26631,"l":26541,"c":26550},
{"d":18.38,"o":26577,"h":26582,"l":26475,"c":26560},
{"d":18.392,"o":26555,"h":26577,"l":26551,"c":26572},
{"d":18.414,"o":26552,"h":26557,"l":26536,"c":26540},
{"d":18.426,"o":26555,"h":26613,"l":26551,"c":26608},
{"d":18.432,"o":26590,"h":26659,"l":26582,"c":26630},
{"d":18.447,"o":26632,"h":26638,"l":26587,"c":26593},
{"d":18.46,"o":26592,"h":26597,"l":26551,"c":26556},
{"d":18.477,"o":26546,"h":26551,"l":26513,"c":26518},
{"d":18.494,"o":26516,"h":26521,"l":26500,"c":26504},
{"d":18.506,"o":26486,"h":26490,"l":26475,"c":26478},
{"d":18.519,"o":26480,"h":26485,"l":26454,"c":26460},
{"d":18.53,"o":26490,"h":26521,"l":26485,"c":26516},
{"d":18.549,"o":26526,"h":26531,"l":26511,"c":26515},
{"d":18.565,"o":26490,"h":26495,"l":26478,"c":26482},
{"d":18.582,"o":26490,"h":26505,"l":26485,"c":26500},
{"d":18.603,"o":26480,"h":26495,"l":26475,"c":26490},
{"d":18.624,"o":26490,"h":26500,"l":26485,"c":26496},
{"d":18.639,"o":26480,"h":26505,"l":26475,"c":26500},
{"d":18.652,"o":26490,"h":26495,"l":26449,"c":26455},
{"d":18.66,"o":26526,"h":26562,"l":26521,"c":26556},
{"d":18.675,"o":26516,"h":26541,"l":26511,"c":26536},
{"d":18.688,"o":26536,"h":26541,"l":26485,"c":26490},
{"d":18.705,"o":26490,"h":26511,"l":26485,"c":26506},
{"d":18.717,"o":26465,"h":26490,"l":26460,"c":26484},
{"d":18.728,"o":26505,"h":26531,"l":26500,"c":26526},
{"d":18.741,"o":26530,"h":26562,"l":26526,"c":26556},
{"d":18.759,"o":26558,"h":26564,"l":26526,"c":26532},
{"d":18.776,"o":26536,"h":26541,"l":26516,"c":26520},
{"d":18.797,"o":26536,"h":26587,"l":26531,"c":26582},
{"d":18.812,"o":26602,"h":26638,"l":26597,"c":26632},
{"d":18.829,"o":26592,"h":26597,"l":26577,"c":26582},
{"d":18.842,"o":26602,"h":26651,"l":26597,"c":26645},
{"d":18.861,"o":26608,"h":26613,"l":26567,"c":26572},
{"d":18.873,"o":26592,"h":26633,"l":26587,"c":26628},
{"d":18.888,"o":26602,"h":26608,"l":26582,"c":26587},
{"d":18.907,"o":26618,"h":26623,"l":26597,"c":26602},
{"d":18.924,"o":26606,"h":26628,"l":26602,"c":26624},
{"d":18.939,"o":26606,"h":26643,"l":26602,"c":26638},
{"d":18.954,"o":26640,"h":26687,"l":26602,"c":26610},
{"d":18.962,"o":26606,"h":26612,"l":26490,"c":26500},
{"d":18.968,"o":26520,"h":26531,"l":26373,"c":26450},
{"d":18.975,"o":26410,"h":26490,"l":26403,"c":26484},
{"d":18.985,"o":26510,"h":26516,"l":26449,"c":26455},
{"d":18.998,"o":26455,"h":26485,"l":26449,"c":26480},
{"d":19.013,"o":26480,"h":26485,"l":26439,"c":26445},
{"d":19.027,"o":26455,"h":26460,"l":26419,"c":26424},
{"d":19.04,"o":26424,"h":26429,"l":26383,"c":26390},
{"d":19.051,"o":26408,"h":26439,"l":26403,"c":26434},
{"d":19.065,"o":26420,"h":26454,"l":26414,"c":26448},
{"d":19.08,"o":26444,"h":26449,"l":26271,"c":26390},
{"d":19.089,"o":26395,"h":26454,"l":26388,"c":26448},
{"d":19.099,"o":26382,"h":26388,"l":26337,"c":26342},
{"d":19.114,"o":26362,"h":26368,"l":26322,"c":26328},
{"d":19.129,"o":26330,"h":26388,"l":26322,"c":26382},
{"d":19.143,"o":26392,"h":26398,"l":26358,"c":26362},
{"d":19.158,"o":26392,"h":26398,"l":26312,"c":26320},
{"d":19.165,"o":26330,"h":26388,"l":26263,"c":26382},
{"d":19.175,"o":26375,"h":26424,"l":26368,"c":26418},
{"d":19.192,"o":26408,"h":26429,"l":26403,"c":26424},
{"d":19.209,"o":26425,"h":26470,"l":26419,"c":26465},
{"d":19.224,"o":26455,"h":26460,"l":26424,"c":26430},
{"d":19.241,"o":26455,"h":26460,"l":26419,"c":26425},
{"d":19.259,"o":26430,"h":26434,"l":26403,"c":26408},
{"d":19.281,"o":26410,"h":26414,"l":26388,"c":26394},
{"d":19.297,"o":26402,"h":26424,"l":26398,"c":26420},
{"d":19.31,"o":26420,"h":26424,"l":26370,"c":26400},
{"d":19.325,"o":26402,"h":26429,"l":26398,"c":26425},
{"d":19.34,"o":26422,"h":26444,"l":26419,"c":26440},
{"d":19.357,"o":26428,"h":26449,"l":26424,"c":26445},
{"d":19.376,"o":26448,"h":26472,"l":26444,"c":26468},
{"d":19.392,"o":26445,"h":26449,"l":26419,"c":26425},
{"d":19.409,"o":26425,"h":26429,"l":26409,"c":26414},
{"d":19.428,"o":26414,"h":26419,"l":26403,"c":26408},
{"d":19.439,"o":26414,"h":26419,"l":26388,"c":26394},
{"d":19.451,"o":26406,"h":26434,"l":26403,"c":26430},
{"d":19.468,"o":26422,"h":26449,"l":26419,"c":26445},
{"d":19.481,"o":26450,"h":26454,"l":26404,"c":26404}]},
"layer":[
{"data":{"name":"priceGrid"},"mark":{"type":"rule","color":"#5d606b","strokeWidth":1},"encoding":{"y":{"field":"p","type":"quantitative","scale":{"domain":[24468.7,27059.2],"nice":false,"zero":false},"axis":{"orient":"right","offset":-52,"values":[24600,24700,24800,24900,25000,25100,25200,25300,25400,25500,25600,25700,25800,25900,26000,26100,26200,26300,26500,26600,26700,26800,26900],"format":"d","title":null,"grid":false,"ticks":false,"labelOverlap":false,"domainColor":"#5d606b","labelColor":"#4d505a","labelFontSize":11,"labelPadding":8,"labelFont":"Open Sans"}},"x":{"datum":8.7317,"type":"quantitative","scale":{"domain":[8.7317,20.19],"nice":false,"zero":false},"axis":{"orient":"bottom","offset":-27,"values":[9,10,11,12,13,14,15,16,17,18,19],"format":"d","title":null,"grid":false,"ticks":false,"labelOverlap":false,"domainColor":"#5d606b","labelColor":"#4d505a","labelFontSize":11,"labelPadding":6,"labelFont":"Open Sans"}},"x2":{"datum":19.862}}},
{"data":{"name":"dayGrid"},"mark":{"type":"rule","color":"#5d606b","strokeWidth":1},"encoding":{"x":{"field":"day","type":"quantitative"},"y":{"datum":27059.2,"type":"quantitative"},"y2":{"datum":24551.6}}},
{"data":{"name":"candles"},"mark":{"type":"rule","strokeWidth":1.3},"encoding":{"x":{"field":"d","type":"quantitative"},"y":{"field":"h","type":"quantitative"},"y2":{"field":"l"},"color":{"condition":{"test":"datum.c>=datum.o","value":"#26a69a"},"value":"#ef5350"}}},
{"data":{"name":"candles"},"mark":{"type":"rule","strokeWidth":2.2},"encoding":{"x":{"field":"d","type":"quantitative"},"y":{"field":"o","type":"quantitative"},"y2":{"field":"c"},"color":{"condition":{"test":"datum.c>=datum.o","value":"#26a69a"},"value":"#ef5350"}}},
{"mark":{"type":"rule","color":"#26a69a","strokeWidth":1.2,"strokeDash":[2,2]},"encoding":{"y":{"field":"last","type":"quantitative"},"x":{"datum":8.7317,"type":"quantitative"},"x2":{"datum":19.862}}},
{"mark":{"type":"rect","color":"#26a69a"},"encoding":{"x":{"datum":19.862,"type":"quantitative"},"x2":{"datum":20.141},"y":{"datum":26427,"type":"quantitative"},"y2":{"datum":26332}}},
{"mark":{"type":"text","color":"#ffffff","fontSize":11.5,"fontWeight":"bold","font":"Open Sans"},"encoding":{"text":{"field":"last"},"x":{"datum":19.952,"type":"quantitative"},"y":{"datum":26400,"type":"quantitative"}}},
{"mark":{"type":"text","text":"04:51","color":"#e0f2f1","fontSize":11.5,"font":"Open Sans"},"encoding":{"x":{"datum":19.952,"type":"quantitative"},"y":{"datum":26352,"type":"quantitative"}}},
{"mark":{"type":"text","text":"USD","color":"#4d505a","fontSize":11,"align":"left","font":"Open Sans"},"encoding":{"x":{"datum":19.925,"type":"quantitative"},"y":{"datum":27016,"type":"quantitative"}}},
{"data":{"name":"legend"},"mark":{"type":"text","align":"left","font":"Open Sans"},"encoding":{"x":{"field":"d","type":"quantitative"},"y":{"datum":27015,"type":"quantitative"},"text":{"field":"label"},"size":{"field":"kind","type":"nominal","legend":null,"scale":{"domain":["name","val"],"range":[11.7,11]}},"color":{"field":"kind","type":"nominal","legend":null,"scale":{"domain":["name","val"],"range":["#3b3e48","#1f7a72"]}}}},
{"mark":{"type":"point","shape":"M-1,-0.5 L-0.28,-0.5 L-0.28,0.5 L-0.62,0.5 L-0.62,-0.15 L-1,-0.15 Z M0.3,-0.5 L1,-0.5 L0.55,0.5 L-0.1,0.5 Z M-0.2,-0.3 A0.14,0.14 0 1 1 0.08,-0.3 A0.14,0.14 0 1 1 -0.2,-0.3 Z","size":361,"filled":true,"color":"#131722","opacity":1,"clip":false},"encoding":{"x":{"datum":8.796,"type":"quantitative"},"y":{"datum":24406,"type":"quantitative"}}},
{"mark":{"type":"text","text":"TradingView","color":"#2a2e39","fontSize":12,"align":"left","font":"Open Sans","clip":false},"encoding":{"x":{"datum":8.88,"type":"quantitative"},"y":{"datum":24406,"type":"quantitative"}}},
{"mark":{"type":"point","shape":"circle","size":300,"filled":true,"fill":"#131722","stroke":"#9c3fa8","strokeWidth":1.5,"opacity":1},"encoding":{"x":{"datum":19.497,"type":"quantitative"},"y":{"datum":24590,"type":"quantitative"}}},
{"mark":{"type":"point","shape":"M0.15,-1 L-0.6,0.15 L-0.05,0.15 L-0.2,1 L0.6,-0.2 L0.05,-0.2 Z","size":100,"filled":true,"color":"#9c3fa8","opacity":1},"encoding":{"x":{"datum":19.497,"type":"quantitative"},"y":{"datum":24590,"type":"quantitative"}}},
{"mark":{"type":"point","shape":"circle","size":24,"filled":true,"color":"#f44336","opacity":1},"encoding":{"x":{"datum":19.543,"type":"quantitative"},"y":{"datum":24612,"type":"quantitative"}}}
]}
